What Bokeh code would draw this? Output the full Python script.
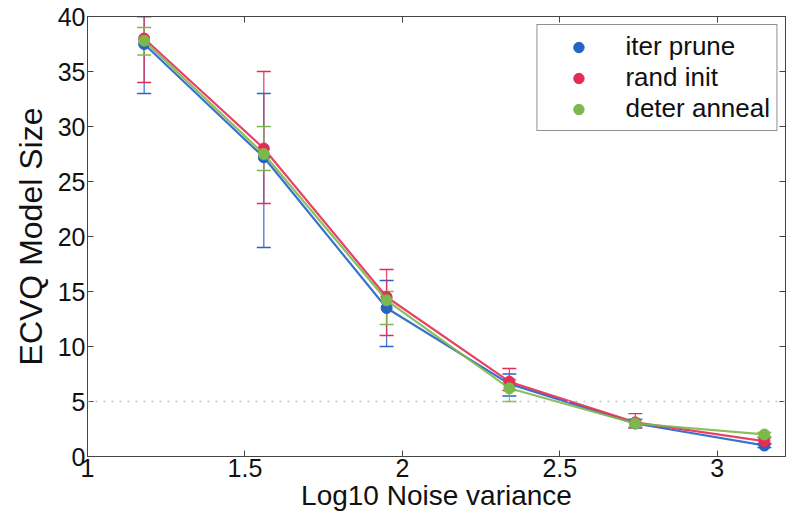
from bokeh.plotting import figure
from bokeh.models import (ColumnDataSource, Whisker, TeeHead, LinearAxis, Legend,
                          LegendItem, Span, FixedTicker, Range1d)
from bokeh.embed import file_html
from bokeh.resources import INLINE

# ---- data ----
x_vals = [1.18, 1.56, 1.95, 2.34, 2.74, 3.15]

series_names = ["iter prune", "rand init", "deter anneal"]

iter_prune = [37.5, 27.2, 13.5, 6.6, 3.0, 1.0]
iter_prune_lo = [33.0, 19.0, 10.0, 5.5, 2.6, 0.8]
iter_prune_hi = [40.0, 33.0, 16.0, 7.5, 3.4, 1.2]

rand_init = [38.0, 28.0, 14.5, 6.8, 3.1, 1.4]
rand_init_lo = [34.0, 23.0, 11.0, 6.0, 2.6, 1.1]
rand_init_hi = [40.0, 35.0, 17.0, 8.0, 3.9, 1.7]

deter_anneal = [37.8, 27.5, 14.2, 6.2, 3.0, 2.0]
deter_anneal_lo = [36.5, 26.0, 12.0, 5.0, 2.7, 1.8]
deter_anneal_hi = [39.0, 30.0, 15.0, 7.0, 3.3, 2.2]

ref_level = 5

x_ticks = [1, 1.5, 2, 2.5, 3]
y_ticks = [0, 5, 10, 15, 20, 25, 30, 35, 40]

colors = ["#2463c8", "#e42d55", "#7cb84c"]
FONT = "Liberation Sans"

p = figure(width=806, height=520, output_backend="svg", toolbar_location=None,
           x_range=Range1d(1, 3.217), y_range=Range1d(0, 40),
           min_border_left=87, min_border_right=21, min_border_top=16,
           min_border_bottom=64)
p.background_fill_color = "white"
p.border_fill_color = "white"
p.outline_line_color = "#444444"
p.grid.visible = False

for ax in (p.xaxis[0], p.yaxis[0]):
    ax.major_tick_in = 6
    ax.major_tick_out = 0
    ax.minor_tick_line_color = None
    ax.axis_line_color = "#444444"
    ax.major_tick_line_color = "#444444"
    ax.major_label_text_font = FONT
    ax.major_label_text_font_size = "25px"
    ax.major_label_text_color = "#111111"
    ax.axis_label_text_font = FONT
    ax.axis_label_text_font_style = "normal"
    ax.axis_label_text_color = "#111111"
    ax.major_label_standoff = 2

p.xaxis[0].ticker = FixedTicker(ticks=x_ticks)
p.yaxis[0].ticker = FixedTicker(ticks=y_ticks)
p.xaxis[0].axis_label = "Log10 Noise variance"
p.yaxis[0].axis_label = "ECVQ Model Size"
p.xaxis[0].axis_label_text_font_size = "28px"
p.xaxis[0].axis_label_standoff = 0
p.yaxis[0].axis_label_text_font_size = "32px"
p.yaxis[0].axis_label_standoff = 6

top_ax = LinearAxis(ticker=FixedTicker(ticks=x_ticks), major_tick_in=6, major_tick_out=0,
                    minor_tick_line_color=None,
                    major_label_overrides={t: "" for t in x_ticks},
                    axis_line_color="#444444", major_tick_line_color="#444444")
right_ax = LinearAxis(ticker=FixedTicker(ticks=y_ticks), major_tick_in=6, major_tick_out=0,
                      minor_tick_line_color=None,
                      major_label_overrides={t: "" for t in y_ticks},
                      axis_line_color="#444444", major_tick_line_color="#444444")
p.add_layout(top_ax, "above")
p.add_layout(right_ax, "right")

p.add_layout(Span(location=ref_level, dimension="width", line_color="#c4c4c4",
                  line_dash="2 6", line_width=1.5))

data = [
    (iter_prune, iter_prune_lo, iter_prune_hi),
    (rand_init, rand_init_lo, rand_init_hi),
    (deter_anneal, deter_anneal_lo, deter_anneal_hi),
]

items = []
for name, (ys, lo, hi), c in zip(series_names, data, colors):
    src = ColumnDataSource(dict(x=x_vals, y=ys, lower=lo, upper=hi))
    w = Whisker(base="x", lower="lower", upper="upper", source=src,
                line_color=c, line_width=1.3, line_alpha=0.85,
                upper_head=TeeHead(size=14, line_color=c, line_width=1.3),
                lower_head=TeeHead(size=14, line_color=c, line_width=1.3))
    p.add_layout(w)
    p.line("x", "y", source=src, line_color=c, line_width=2.2, line_alpha=0.9)
    r = p.scatter("x", "y", source=src, size=11, fill_color=c, line_color=c)
    items.append(LegendItem(label=name, renderers=[r]))

legend = Legend(items=items, location="top_right",
                label_text_font=FONT, label_text_font_size="26px",
                label_text_color="#111111", label_height=26, glyph_width=70,
                glyph_height=26, spacing=0, padding=6, margin=8,
                border_line_color="#222222", border_line_width=1.2,
                background_fill_alpha=1.0, label_standoff=12)
p.add_layout(legend)

open("out.html", "w").write(file_html(p, INLINE))
